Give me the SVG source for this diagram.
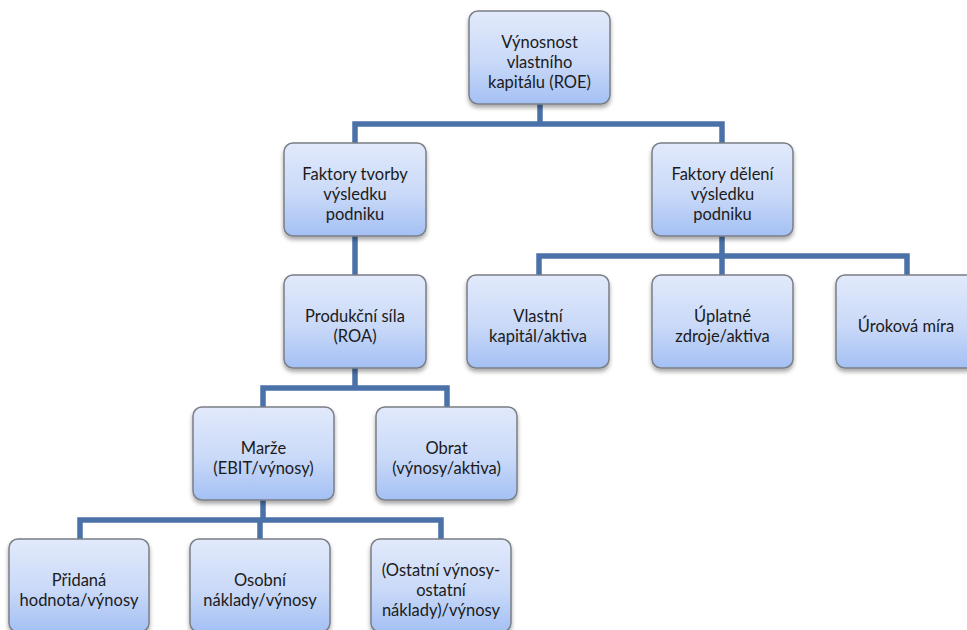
<svg xmlns="http://www.w3.org/2000/svg" width="967" height="630" viewBox="0 0 967 630">
<defs>
<linearGradient id="g" x1="0" y1="0" x2="0" y2="1">
<stop offset="0" stop-color="#e2eafb"/>
<stop offset="0.55" stop-color="#c9d9f8"/>
<stop offset="1" stop-color="#a4c0f4"/>
</linearGradient>
<filter id="sh" x="-10%" y="-10%" width="120%" height="130%">
<feDropShadow dx="0" dy="3" stdDeviation="2.2" flood-color="#000" flood-opacity="0.35"/>
</filter>
</defs>
<style>
.box{fill:url(#g);stroke:#7a7f87;stroke-width:1.5;filter:url(#sh)}
.lbl{font-family:"Lato","Liberation Sans",sans-serif;font-size:16.5px;fill:#1b1b1b;text-anchor:middle}
.con{fill:none;stroke:#4a72a8;stroke-width:5.5;stroke-linejoin:miter}
</style>
<rect width="967" height="630" fill="#fff"/>
<g id="connectors">
<path class="con" d="M540 104V124M355 143V124H722V143"/>
<path class="con" d="M355 236V275"/>
<path class="con" d="M722 236V256M539 275V256H907V275M722 256V275"/>
<path class="con" d="M355 368V388M263 407V388H447V407"/>
<path class="con" d="M263 500V520M80 539V520H441V539M260 520V539"/>
</g>
<g id="n-roe"><rect class="box" x="469" y="11" width="141" height="93" rx="9"/>
<text class="lbl" x="539.5" y="48">Výnosnost</text><text class="lbl" x="539.5" y="68">vlastního</text><text class="lbl" x="539.5" y="88">kapitálu (ROE)</text></g>
<g id="n-tvorba"><rect class="box" x="284" y="143" width="142" height="93" rx="9"/>
<text class="lbl" x="355" y="180">Faktory tvorby</text><text class="lbl" x="355" y="200">výsledku</text><text class="lbl" x="355" y="220">podniku</text></g>
<g id="n-deleni"><rect class="box" x="652" y="143" width="141" height="93" rx="9"/>
<text class="lbl" x="722.5" y="180">Faktory dělení</text><text class="lbl" x="722.5" y="200">výsledku</text><text class="lbl" x="722.5" y="220">podniku</text></g>
<g id="n-roa"><rect class="box" x="284" y="275" width="142" height="93" rx="9"/>
<text class="lbl" x="355" y="322">Produkční síla</text><text class="lbl" x="355" y="342">(ROA)</text></g>
<g id="n-vk"><rect class="box" x="467" y="275" width="142" height="93" rx="9"/>
<text class="lbl" x="538" y="322">Vlastní</text><text class="lbl" x="538" y="342">kapitál/aktiva</text></g>
<g id="n-uz"><rect class="box" x="652" y="275" width="141" height="93" rx="9"/>
<text class="lbl" x="722.5" y="322">Úplatné</text><text class="lbl" x="722.5" y="342">zdroje/aktiva</text></g>
<g id="n-um"><rect class="box" x="836" y="275" width="141" height="93" rx="9"/>
<text class="lbl" x="906" y="332">Úroková míra</text></g>
<g id="n-marze"><rect class="box" x="193" y="407" width="141" height="93" rx="9"/>
<text class="lbl" x="263.5" y="454">Marže</text><text class="lbl" x="263.5" y="474">(EBIT/výnosy)</text></g>
<g id="n-obrat"><rect class="box" x="376" y="407" width="141" height="93" rx="9"/>
<text class="lbl" x="446.5" y="454">Obrat</text><text class="lbl" x="446.5" y="474">(výnosy/aktiva)</text></g>
<g id="n-pridana"><rect class="box" x="9" y="539" width="140" height="93" rx="9"/>
<text class="lbl" x="79" y="586">Přidaná</text><text class="lbl" x="79" y="606">hodnota/výnosy</text></g>
<g id="n-osobni"><rect class="box" x="190" y="539" width="140" height="93" rx="9"/>
<text class="lbl" x="260" y="586">Osobní</text><text class="lbl" x="260" y="606">náklady/výnosy</text></g>
<g id="n-ostatni"><rect class="box" x="371" y="539" width="140" height="93" rx="9"/>
<text class="lbl" x="441" y="576">(Ostatní výnosy-</text><text class="lbl" x="441" y="596">ostatní</text><text class="lbl" x="441" y="616">náklady)/výnosy</text></g>
</svg>
